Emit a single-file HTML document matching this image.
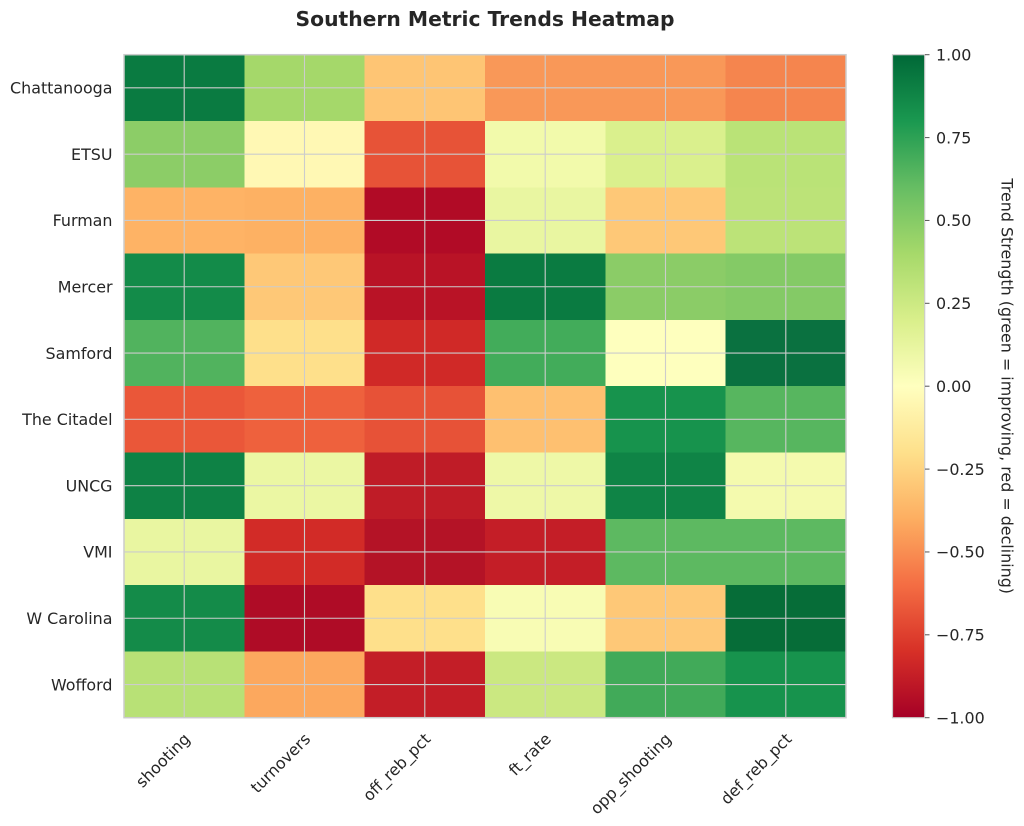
<!DOCTYPE html>
<html><head><meta charset="utf-8"><style>
html,body{margin:0;padding:0;background:#fff;}
svg{display:block;}
text{font-family:"DejaVu Sans","Liberation Sans",sans-serif;fill:#262626;}
</style></head><body>
<svg width="1024" height="826" viewBox="0 0 1024 826" xmlns="http://www.w3.org/2000/svg">
<defs>
<linearGradient id="cb" x1="0" y1="1" x2="0" y2="0">
<stop offset="0" stop-color="#a50026"/>
<stop offset="0.1" stop-color="#d73027"/>
<stop offset="0.2" stop-color="#f46d43"/>
<stop offset="0.3" stop-color="#fdae61"/>
<stop offset="0.4" stop-color="#fee08b"/>
<stop offset="0.5" stop-color="#ffffbf"/>
<stop offset="0.6" stop-color="#d9ef8b"/>
<stop offset="0.7" stop-color="#a6d96a"/>
<stop offset="0.8" stop-color="#66bd63"/>
<stop offset="0.9" stop-color="#1a9850"/>
<stop offset="1" stop-color="#006837"/>
</linearGradient>
</defs>
<text x="485" y="26" text-anchor="middle" font-size="20.3" font-weight="bold">Southern Metric Trends Heatmap</text>
<g shape-rendering="crispEdges">
<!-- row 0 -->
<rect x="124" y="54.7" width="120.8" height="66.8" fill="#0a7b41"/>
<rect x="244.33" y="54.7" width="120.8" height="66.8" fill="#a5d86a"/>
<rect x="364.67" y="54.7" width="120.8" height="66.8" fill="#fec574"/>
<rect x="485" y="54.7" width="120.8" height="66.8" fill="#f99858"/>
<rect x="605.33" y="54.7" width="120.8" height="66.8" fill="#f99858"/>
<rect x="725.67" y="54.7" width="120.33" height="66.8" fill="#f5854e"/>
<!-- row 1 -->
<rect x="124" y="121" width="120.8" height="66.8" fill="#8ccd67"/>
<rect x="244.33" y="121" width="120.8" height="66.8" fill="#fff8b4"/>
<rect x="364.67" y="121" width="120.8" height="66.8" fill="#e75337"/>
<rect x="485" y="121" width="120.8" height="66.8" fill="#f2faab"/>
<rect x="605.33" y="121" width="120.8" height="66.8" fill="#daf08d"/>
<rect x="725.67" y="121" width="120.33" height="66.8" fill="#bae377"/>
<!-- row 2 -->
<rect x="124" y="187.3" width="120.8" height="66.8" fill="#feb365"/>
<rect x="244.33" y="187.3" width="120.8" height="66.8" fill="#fdb163"/>
<rect x="364.67" y="187.3" width="120.8" height="66.8" fill="#b10b26"/>
<rect x="485" y="187.3" width="120.8" height="66.8" fill="#e9f6a1"/>
<rect x="605.33" y="187.3" width="120.8" height="66.8" fill="#fec877"/>
<rect x="725.67" y="187.3" width="120.33" height="66.8" fill="#bce378"/>
<!-- row 3 -->
<rect x="124" y="253.6" width="120.8" height="66.8" fill="#138b49"/>
<rect x="244.33" y="253.6" width="120.8" height="66.8" fill="#fec877"/>
<rect x="364.67" y="253.6" width="120.8" height="66.8" fill="#b91326"/>
<rect x="485" y="253.6" width="120.8" height="66.8" fill="#0a7b41"/>
<rect x="605.33" y="253.6" width="120.8" height="66.8" fill="#8bcc67"/>
<rect x="725.67" y="253.6" width="120.33" height="66.8" fill="#84ca66"/>
<!-- row 4 -->
<rect x="124" y="319.9" width="120.8" height="66.8" fill="#51b35e"/>
<rect x="244.33" y="319.9" width="120.8" height="66.8" fill="#fee08b"/>
<rect x="364.67" y="319.9" width="120.8" height="66.8" fill="#d02927"/>
<rect x="485" y="319.9" width="120.8" height="66.8" fill="#42ac5a"/>
<rect x="605.33" y="319.9" width="120.8" height="66.8" fill="#feffbe"/>
<rect x="725.67" y="319.9" width="120.33" height="66.8" fill="#0a7140"/>
<!-- row 5 -->
<rect x="124" y="386.2" width="120.8" height="66.8" fill="#ea5739"/>
<rect x="244.33" y="386.2" width="120.8" height="66.8" fill="#ee613d"/>
<rect x="364.67" y="386.2" width="120.8" height="66.8" fill="#e75237"/>
<rect x="485" y="386.2" width="120.8" height="66.8" fill="#fec070"/>
<rect x="605.33" y="386.2" width="120.8" height="66.8" fill="#17934d"/>
<rect x="725.67" y="386.2" width="120.33" height="66.8" fill="#57b65f"/>
<!-- row 6 -->
<rect x="124" y="452.5" width="120.8" height="66.8" fill="#0e8245"/>
<rect x="244.33" y="452.5" width="120.8" height="66.8" fill="#ebf7a3"/>
<rect x="364.67" y="452.5" width="120.8" height="66.8" fill="#bf1c27"/>
<rect x="485" y="452.5" width="120.8" height="66.8" fill="#eef8a7"/>
<rect x="605.33" y="452.5" width="120.8" height="66.8" fill="#0f8446"/>
<rect x="725.67" y="452.5" width="120.33" height="66.8" fill="#f4faae"/>
<!-- row 7 -->
<rect x="124" y="518.8" width="120.8" height="66.8" fill="#e9f6a1"/>
<rect x="244.33" y="518.8" width="120.8" height="66.8" fill="#d22b27"/>
<rect x="364.67" y="518.8" width="120.8" height="66.8" fill="#b41326"/>
<rect x="485" y="518.8" width="120.8" height="66.8" fill="#c41e27"/>
<rect x="605.33" y="518.8" width="120.8" height="66.8" fill="#5db961"/>
<rect x="725.67" y="518.8" width="120.33" height="66.8" fill="#5db961"/>
<!-- row 8 -->
<rect x="124" y="585.1" width="120.8" height="66.8" fill="#148b49"/>
<rect x="244.33" y="585.1" width="120.8" height="66.8" fill="#af0c26"/>
<rect x="364.67" y="585.1" width="120.8" height="66.8" fill="#fee08b"/>
<rect x="485" y="585.1" width="120.8" height="66.8" fill="#f8fcb4"/>
<rect x="605.33" y="585.1" width="120.8" height="66.8" fill="#fec877"/>
<rect x="725.67" y="585.1" width="120.33" height="66.8" fill="#066d38"/>
<!-- row 9 -->
<rect x="124" y="651.4" width="120.8" height="66.3" fill="#b8e176"/>
<rect x="244.33" y="651.4" width="120.8" height="66.3" fill="#fca85e"/>
<rect x="364.67" y="651.4" width="120.8" height="66.3" fill="#c31e27"/>
<rect x="485" y="651.4" width="120.8" height="66.3" fill="#cbe881"/>
<rect x="605.33" y="651.4" width="120.8" height="66.3" fill="#41aa59"/>
<rect x="725.67" y="651.4" width="120.33" height="66.3" fill="#17934d"/>
</g>
<!-- grid -->
<g stroke="#cccccc" stroke-width="1.1" fill="none">
<line x1="184.2" y1="54.7" x2="184.2" y2="717.7"/>
<line x1="304.5" y1="54.7" x2="304.5" y2="717.7"/>
<line x1="424.8" y1="54.7" x2="424.8" y2="717.7"/>
<line x1="545.2" y1="54.7" x2="545.2" y2="717.7"/>
<line x1="665.5" y1="54.7" x2="665.5" y2="717.7"/>
<line x1="785.8" y1="54.7" x2="785.8" y2="717.7"/>
<line x1="124" y1="87.85" x2="846" y2="87.85"/>
<line x1="124" y1="154.15" x2="846" y2="154.15"/>
<line x1="124" y1="220.45" x2="846" y2="220.45"/>
<line x1="124" y1="286.75" x2="846" y2="286.75"/>
<line x1="124" y1="353.05" x2="846" y2="353.05"/>
<line x1="124" y1="419.35" x2="846" y2="419.35"/>
<line x1="124" y1="485.65" x2="846" y2="485.65"/>
<line x1="124" y1="551.95" x2="846" y2="551.95"/>
<line x1="124" y1="618.25" x2="846" y2="618.25"/>
<line x1="124" y1="684.55" x2="846" y2="684.55"/>
</g>
<rect x="124" y="54.7" width="722" height="663" fill="none" stroke="#cccccc" stroke-width="1.5"/>
<!-- y labels -->
<g font-size="15.9" text-anchor="end">
<text x="112.5" y="93.6">Chattanooga</text>
<text x="112.5" y="159.9">ETSU</text>
<text x="112.5" y="226.2">Furman</text>
<text x="112.5" y="292.5">Mercer</text>
<text x="112.5" y="358.8">Samford</text>
<text x="112.5" y="425.1">The Citadel</text>
<text x="112.5" y="491.4">UNCG</text>
<text x="112.5" y="557.7">VMI</text>
<text x="112.5" y="624">W Carolina</text>
<text x="112.5" y="690.3">Wofford</text>
</g>
<!-- x labels -->
<g font-size="15.9" text-anchor="end">
<text transform="translate(191,740) rotate(-45)">shooting</text>
<text transform="translate(311.3,740) rotate(-45)">turnovers</text>
<text transform="translate(431.6,740) rotate(-45)">off_reb_pct</text>
<text transform="translate(552,740) rotate(-45)">ft_rate</text>
<text transform="translate(672.3,740) rotate(-45)">opp_shooting</text>
<text transform="translate(792.6,740) rotate(-45)">def_reb_pct</text>
</g>
<!-- colorbar -->
<rect x="892.5" y="54.7" width="32.2" height="663" fill="url(#cb)"/>
<rect x="892.5" y="54.7" width="32.2" height="663" fill="none" stroke="#cccccc" stroke-width="1.2"/>
<g stroke="#555" stroke-width="1">
<line x1="925" y1="54.7" x2="929.5" y2="54.7"/>
<line x1="925" y1="137.6" x2="929.5" y2="137.6"/>
<line x1="925" y1="220.45" x2="929.5" y2="220.45"/>
<line x1="925" y1="303.3" x2="929.5" y2="303.3"/>
<line x1="925" y1="386.2" x2="929.5" y2="386.2"/>
<line x1="925" y1="469.1" x2="929.5" y2="469.1"/>
<line x1="925" y1="551.95" x2="929.5" y2="551.95"/>
<line x1="925" y1="634.8" x2="929.5" y2="634.8"/>
<line x1="925" y1="717.7" x2="929.5" y2="717.7"/>
</g>
<g font-size="15.9">
<text x="936" y="60.4">1.00</text>
<text x="936" y="143.3">0.75</text>
<text x="936" y="226.15">0.50</text>
<text x="936" y="309">0.25</text>
<text x="936" y="391.9">0.00</text>
<text x="936" y="474.8">−0.25</text>
<text x="936" y="557.65">−0.50</text>
<text x="936" y="640.5">−0.75</text>
<text x="936" y="723.4">−1.00</text>
</g>
<text font-size="15.9" text-anchor="middle" transform="translate(1001.5,386.2) rotate(90)">Trend Strength (green = improving, red = declining)</text>
</svg>
</body></html>
